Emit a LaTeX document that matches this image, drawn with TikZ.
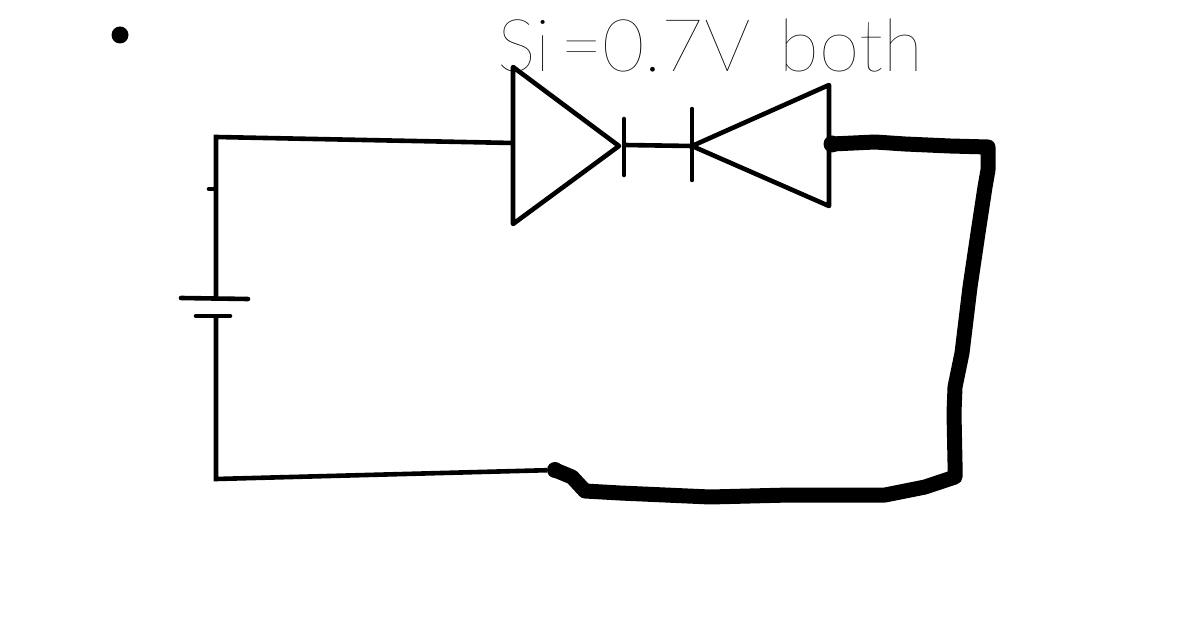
\documentclass[tikz,border=0pt]{standalone}
\usepackage{fontspec}
\newfontfamily\handfont{Lato Hairline}
\tikzset{
  wire/.style={line width=4.6pt,black,line join=miter},
  heavy/.style={line width=15pt,black,line join=round,line cap=round},
  blob/.style={circle,fill=black,inner sep=0pt},
  handtext/.style={inner sep=0pt,anchor=base west,text=black,font=\handfont\fontsize{73pt}{73pt}\selectfont}
}
\begin{document}
\begin{tikzpicture}[x=1pt,y=-1pt]
\useasboundingbox[fill=white] (0,0) rectangle (1194,617);
\node[blob,minimum size=17pt] (dot) at (120,35) {};
\node[handtext] (label) at (497,72) {Si\hspace{10pt}=0.7V\hspace{29pt}both};
\coordinate (tl) at (216,137);
\coordinate (bl) at (216,479);
\coordinate (platetop) at (216,298);
\coordinate (platebot) at (216,316);
\coordinate (a1) at (513,143);
\coordinate (c1) at (624,145);
\coordinate (c2) at (692,146);
\node[blob,minimum size=17pt] (r2) at (832,144) {};
\node[blob,minimum size=16pt] (wireend) at (555,470) {};
\draw[wire] (a1) -- (tl) -- (platetop);
\draw[wire] (platebot) -- (bl) -- (wireend);
\draw[wire,line cap=round] (181,298) -- (248,299);
\draw[wire,line cap=round] (196,316) -- (230,316);
\draw[wire,line cap=round] (209,189) -- (214,189);
\draw[wire,line join=round] (513,67) -- (619,146) -- (513,224) -- cycle;
\draw[wire,line cap=round] (624,119) -- (624,175);
\draw[wire] (c1) -- (c2);
\draw[wire,line cap=round] (692,109) -- (692,180);
\draw[wire,line join=round] (829,85) -- (692,146) -- (829,206) -- cycle;
\draw[heavy] (r2.center) -- (875,142) -- (905,144) -- (950,146) -- (988,147) -- (988,170) -- (985,187) -- (978,233) -- (970,287) -- (962,353) -- (955,387) -- (954,413) -- (955,463) -- (955,477) -- (925,487) -- (885,495) -- (790,495) -- (710,497) -- (620,493) -- (585,491) -- (572,477) -- (wireend.center);
\end{tikzpicture}
\end{document}
